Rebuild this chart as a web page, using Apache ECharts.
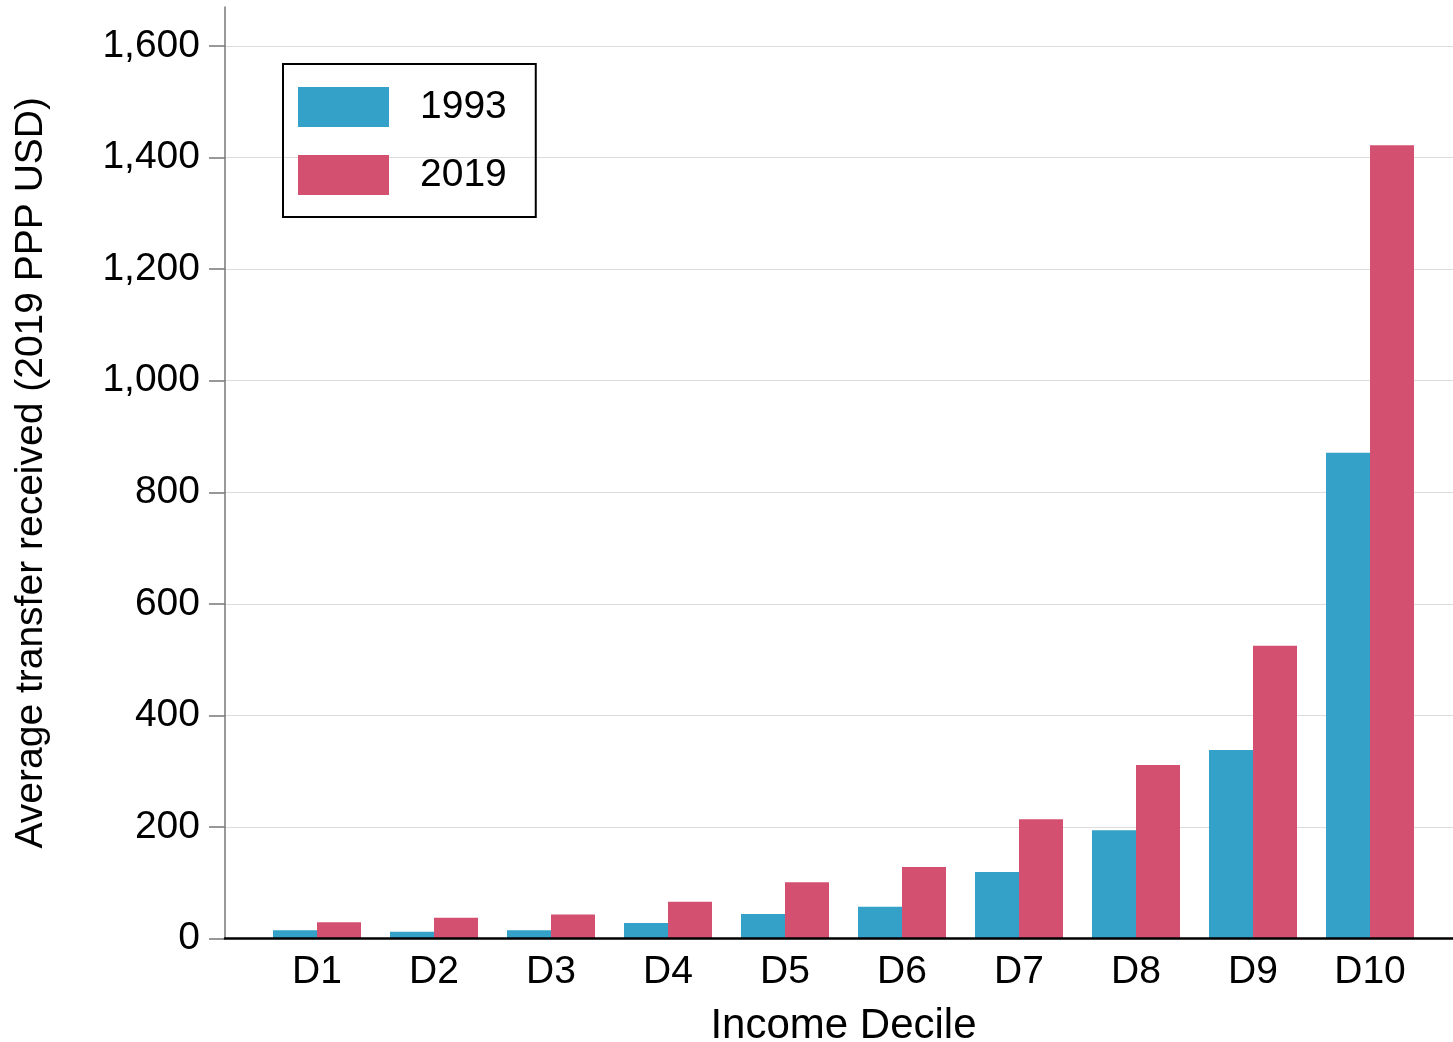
<!DOCTYPE html>
<html>
<head>
<meta charset="utf-8">
<script src="https://cdn.jsdelivr.net/npm/echarts@6/dist/echarts.min.js"></script>
<style>
html,body{margin:0;padding:0;background:#fff;}
#chart{width:1453px;height:1042px;}
</style>
</head>
<body>
<div id="chart"></div>
<script>
const categories = ['D1','D2','D3','D4','D5','D6','D7','D8','D9','D10'];
const values1993 = [15, 12, 15, 28, 44, 57, 119, 194, 338, 871];
const values2019 = [29, 37, 43, 66, 101, 128, 214, 311, 525, 1422];
const seriesNames = ['1993', '2019'];
const yTicks = { min: 0, max: 1600, interval: 200 };

const FONT = 'Liberation Sans, Arial, sans-serif';
const BLUE = '#34A1C8';
const RED = '#D35070';

const chart = echarts.init(document.getElementById('chart'), null, {renderer: 'canvas'});
chart.setOption({
  animation: false,
  backgroundColor: '#fff',
  textStyle: { fontFamily: FONT },
  legend: {
    data: seriesNames,
    orient: 'vertical',
    left: 283,
    top: 64,
    padding: [23, 29, 22, 15],
    itemWidth: 91,
    itemHeight: 40,
    itemGap: 28,
    borderColor: '#000',
    borderWidth: 2,
    icon: 'rect',
    textStyle: { fontFamily: FONT, fontSize: 39, color: '#000', padding: [9, 0, 0, 26] }
  },
  grid: [
    { left: 225, right: 0, top: 46, bottom: 103.5, containLabel: false, outerBoundsMode: 'none' },
    { left: 258.5, right: 24.5, top: 46, bottom: 103.5, containLabel: false, outerBoundsMode: 'none' },
    { left: 225, right: 0, top: 7, bottom: 103.5, containLabel: false, outerBoundsMode: 'none' }
  ],
  xAxis: [
    { gridIndex: 0, type: 'category', data: categories,
      axisLine: { show: true, lineStyle: { color: '#000', width: 2.5 } },
      axisTick: { show: false }, axisLabel: { show: false }, splitLine: { show: false }, z: 5 },
    { gridIndex: 1, type: 'category', data: categories,
      axisLine: { show: false }, axisTick: { show: false },
      axisLabel: { show: true, fontFamily: FONT, fontSize: 39, color: '#000', margin: 14 },
      name: 'Income Decile', nameLocation: 'middle', nameGap: 67,
      nameTextStyle: { fontFamily: FONT, fontSize: 42, color: '#000' } },
    { gridIndex: 2, type: 'category', data: categories, show: false }
  ],
  yAxis: [
    { gridIndex: 0, type: 'value', min: yTicks.min, max: yTicks.max, interval: yTicks.interval,
      axisLine: { show: false },
      axisTick: { show: true, length: 16, lineStyle: { color: '#777', width: 1.5 } },
      axisLabel: { fontFamily: FONT, fontSize: 39, color: '#000', margin: 25, padding: [4, 0, 0, 0],
        formatter: v => v.toLocaleString('en-US') },
      splitLine: { show: true, lineStyle: { color: '#dcdcdc', width: 1 } } },
    { gridIndex: 1, type: 'value', min: yTicks.min, max: yTicks.max, interval: yTicks.interval, show: false },
    { gridIndex: 2, type: 'value', min: 0, max: 1670, show: true,
      axisLine: { show: true, lineStyle: { color: '#777', width: 1.5 } },
      axisTick: { show: false }, axisLabel: { show: false }, splitLine: { show: false },
      name: 'Average transfer received (2019 PPP USD)', nameLocation: 'middle', nameGap: 174,
      nameTextStyle: { fontFamily: FONT, fontSize: 39, color: '#000' } }
  ],
  series: [
    { name: seriesNames[0], type: 'bar', xAxisIndex: 1, yAxisIndex: 1, data: values1993,
      barWidth: 44, barGap: '0%', itemStyle: { color: BLUE } },
    { name: seriesNames[1], type: 'bar', xAxisIndex: 1, yAxisIndex: 1, data: values2019,
      barWidth: 44, barGap: '0%', itemStyle: { color: RED } }
  ]
});
</script>
</body>
</html>
